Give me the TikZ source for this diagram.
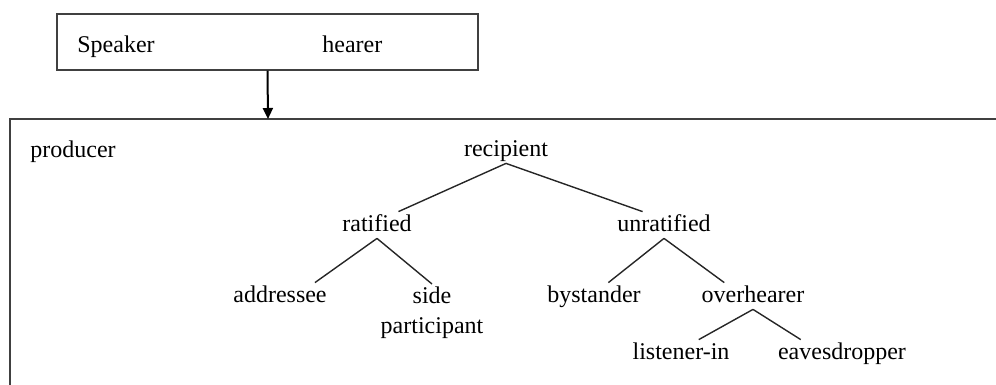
\documentclass[tikz,border=0pt]{standalone}
\usepackage{fontspec}
\setmainfont{Liberation Serif}
\usetikzlibrary{arrows.meta}

\tikzset{
  lbl/.style={anchor=base, inner sep=1pt, text height=8.5pt, text depth=2.5pt, font=\fontsize{12}{15}\selectfont},
  branch/.style={black!85, line width=0.7pt},
  frameline/.style={black!75, line width=0.7pt},
}

\begin{document}
\begin{tikzpicture}[x=0.5pt, y=-0.5pt]
    \useasboundingbox (0,0) rectangle (996,385);
    % === TOP: speaker / hearer box ===
    \node[frameline, draw, minimum width=210.5pt, minimum height=28pt, inner sep=0pt] (sh) at (267.5,42) {};
    \node[lbl, anchor=base west] (speaker) at (75,53) {Speaker};
    \node[lbl, anchor=base west] (hearer) at (320,53) {hearer};
    % === BOTTOM: open frame with the participant roles ===
    \draw[frameline] (10,385) -- (10,119) -- (996,119);
    \coordinate (frametop) at (268,119);
    \draw[-{Triangle[width=5pt,length=5.5pt]}, line width=1pt] (sh.south) -- (frametop);
    \node[lbl, anchor=base west] (producer) at (28,157) {producer};
    \node[lbl] (recipient) at (506,156) {recipient};
    \node[lbl] (ratified) at (377,231) {ratified};
    \node[lbl] (unratified) at (664,231) {unratified};
    \node[lbl] (addressee) at (280,302) {addressee};
    \node[anchor=north, align=center, inner sep=1pt, font=\fontsize{12}{15}\selectfont] (side) at (432,284) {side\\participant};
    \node[lbl] (bystander) at (594,302) {bystander};
    \node[lbl] (overhearer) at (753,302) {overhearer};
    \node[lbl] (listener) at (681,359) {listener-in};
    \node[lbl] (eavesdropper) at (842,359) {eavesdropper};
    % tree branches
    \draw[branch] (recipient.south) -- (ratified.32);
    \draw[branch] (recipient.south) -- (unratified.148);
    \draw[branch] (ratified.south) -- (addressee.21);
    \draw[branch] (ratified.south) -- (side.north);
    \draw[branch] (unratified.south) -- (bystander.43);
    \draw[branch] (unratified.south) -- (overhearer.155);
    \draw[branch] (overhearer.south) -- (listener.37);
    \draw[branch] (overhearer.south) -- (eavesdropper.162);
\end{tikzpicture}
\end{document}
